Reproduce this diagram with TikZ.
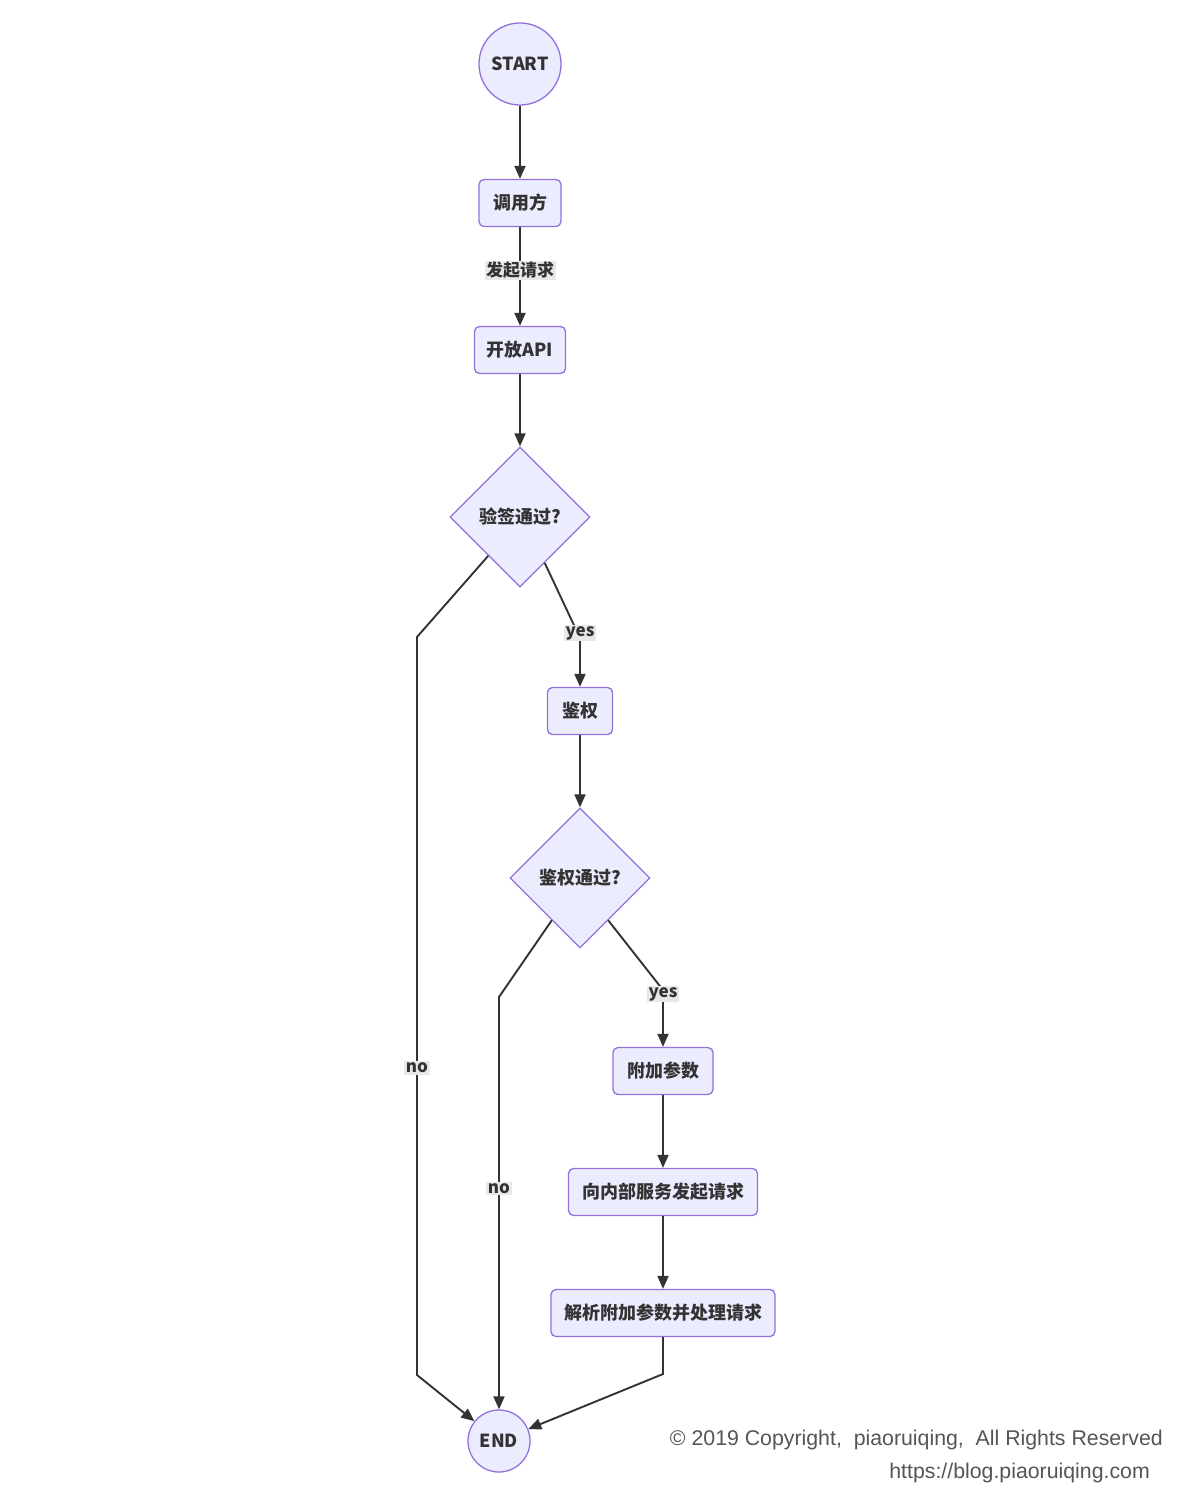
\documentclass[tikz,border=0pt]{standalone}
\usepackage{fontspec}
\setmainfont{Noto Sans CJK SC}
\newfontfamily\cfont{Liberation Sans}
\usetikzlibrary{shapes.geometric,arrows.meta,calc}
\definecolor{nodefill}{HTML}{ECECFF}
\definecolor{nodeline}{HTML}{9370DB}
\definecolor{edgec}{HTML}{333333}
\definecolor{lblbg}{HTML}{E8E8E8}
\definecolor{cpy}{HTML}{555555}
\tikzset{
  base/.style={draw=nodeline,fill=nodefill,line width=1.3pt,text=edgec,
    font=\fontsize{18}{21}\selectfont\bfseries,inner sep=0pt},
  boxnode/.style={base,rectangle,rounded corners=5pt,minimum height=47pt},
  circnode/.style={base,circle},
  decision/.style={base,diamond,minimum width=140pt,minimum height=140pt},
  flow/.style={draw=edgec,line width=1.9pt,-{Triangle[length=13pt,width=11pt]}},
  elabel/.style={fill=lblbg,text=edgec,inner sep=1.5pt,
    font=\fontsize{17}{19}\selectfont\bfseries},
  copy/.style={text=cpy,inner sep=0pt,font=\cfont\fontsize{21.3}{24}\selectfont}
}
\begin{document}
\begin{tikzpicture}[x=1pt,y=-1pt]
\useasboundingbox[fill=white] (0,0) rectangle (1188,1494);
% nodes
\node[circnode,minimum size=82pt] (start) at (520,64) {START};
\node[boxnode,minimum width=82pt] (caller) at (520,203) {调用方};
\node[boxnode,minimum width=91pt] (api) at (520,350) {开放API};
\node[decision] (d1) at (520,517) {验签通过?};
\node[boxnode,minimum width=65pt] (auth) at (580,711) {鉴权};
\node[decision] (d2) at (580,878) {鉴权通过?};
\node[boxnode,minimum width=100pt] (param) at (663,1071) {附加参数};
\node[boxnode,minimum width=189pt] (req) at (663,1192) {向内部服务发起请求};
\node[boxnode,minimum width=224pt] (parse) at (663,1313) {解析附加参数并处理请求};
\node[circnode,minimum size=62pt] (end) at (499,1441) {END};
% coordinates
\coordinate (d1l) at ($(d1.west)!0.55!(d1.south)$);
\coordinate (d1r) at ($(d1.east)!0.65!(d1.south)$);
\coordinate (d2l) at ($(d2.west)!0.6!(d2.south)$);
\coordinate (d2r) at ($(d2.east)!0.6!(d2.south)$);
\coordinate (n1a) at (417,637);
\coordinate (n1b) at (417,1375);
\coordinate (y1) at (580,638);
\coordinate (n2a) at (499,997);
\coordinate (y2) at (663,990);
\coordinate (pb) at (663,1374);
% edges
\draw[flow] (start) -- (caller);
\draw[flow] (caller) -- node[elabel,pos=0.44]{发起请求} (api);
\draw[flow] (api) -- (d1);
\draw[flow] (d1l) -- (n1a) -- node[elabel,pos=0.584]{no} (n1b) -- (end);
\draw[flow] (d1r) -- (y1) -- (auth);
\node[elabel] (yes1) at (580,633) {yes};
\draw[flow] (auth) -- (d2);
\draw[flow] (d2l) -- (n2a) -- node[elabel,pos=0.465]{no} (end);
\draw[flow] (d2r) -- (y2) -- (param);
\node[elabel] (yes2) at (663,994) {yes};
\draw[flow] (param) -- (req);
\draw[flow] (req) -- (parse);
\draw[flow] (parse) -- (pb) -- (end);
% copyright
\node[copy,anchor=base east] (c1) at (1163,1445) {© 2019 Copyright,\ \ piaoruiqing,\ \ All Rights Reserved};
\node[copy,anchor=base east] (c2) at (1150,1478) {https://blog.piaoruiqing.com};
\end{tikzpicture}
\end{document}
